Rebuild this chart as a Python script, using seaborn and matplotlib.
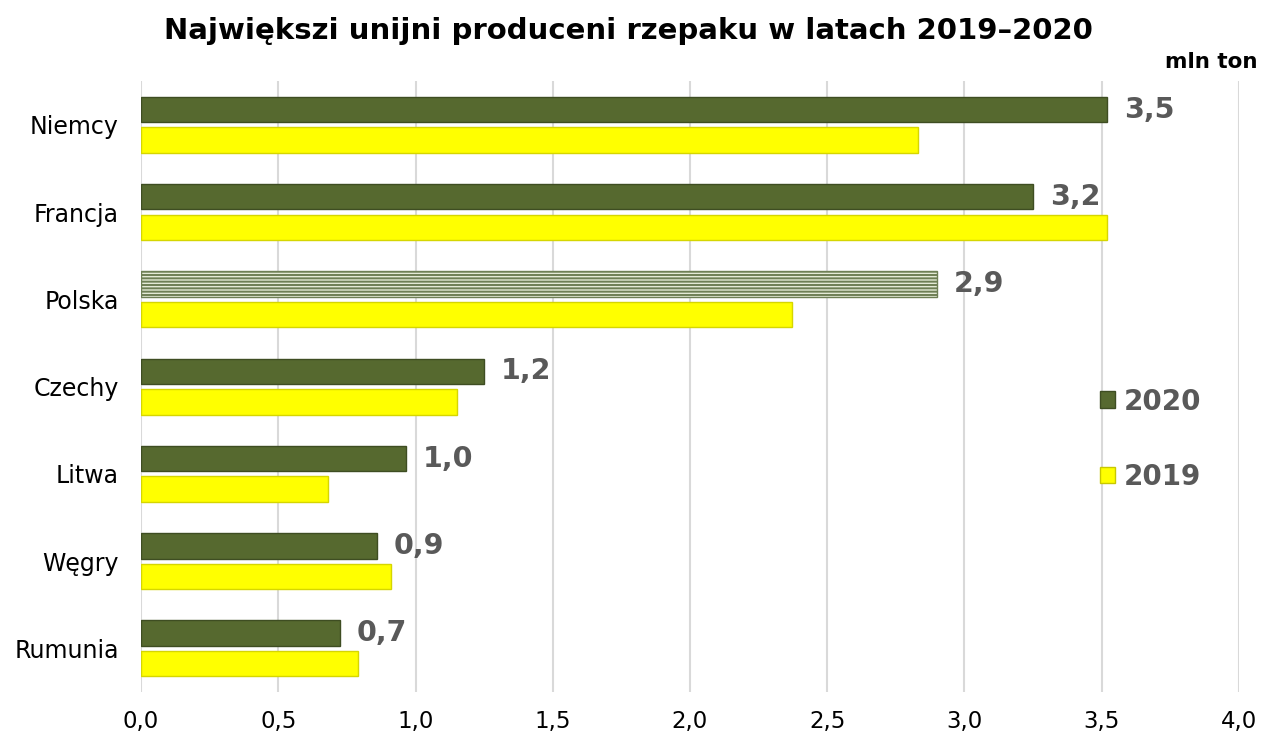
import matplotlib
matplotlib.use("Agg")
import matplotlib.pyplot as plt
import seaborn as sns
import pandas as pd
from matplotlib.ticker import FuncFormatter
from matplotlib.patches import Patch

countries = ["Niemcy", "Francja", "Polska", "Czechy", "Litwa", "Węgry", "Rumunia"]
values_2020 = [3.52, 3.25, 2.90, 1.25, 0.965, 0.86, 0.725]
values_2019 = [2.83, 3.52, 2.37, 1.15, 0.68, 0.91, 0.79]
labels_2020 = ["3,5", "3,2", "2,9", "1,2", "1,0", "0,9", "0,7"]
years = ["2020", "2019"]
x_ticks = [0, 0.5, 1.0, 1.5, 2.0, 2.5, 3.0, 3.5, 4.0]

df = pd.DataFrame({
    "kraj": countries * 2,
    "rok": [years[0]] * len(countries) + [years[1]] * len(countries),
    "wartosc": values_2020 + values_2019,
})

sns.set_theme(style="white")
plt.rcParams["font.family"] = ["DejaVu Sans"]
plt.rcParams["hatch.linewidth"] = 1.4

fig = plt.figure(figsize=(12.65, 7.38), dpi=100)
ax = fig.add_axes([0.1115, 0.0623, 0.8679, 0.8277])

palette = {"2020": "#56692F", "2019": "#FFFF00"}
sns.barplot(data=df, y="kraj", x="wartosc", hue="rok", hue_order=years,
            order=countries, palette=palette, orient="h", width=0.7, gap=0.17,
            saturation=1, ax=ax, legend=False)

for bar in ax.containers[0]:
    bar.set_edgecolor("#3E4D22")
    bar.set_linewidth(1.0)
for bar in ax.containers[1]:
    bar.set_edgecolor("#D6D600")
    bar.set_linewidth(1.0)

# Polska 2020 striped
pol = ax.containers[0][countries.index("Polska")]
pol.set_facecolor("#E4EAD6")
pol.set_hatch("-----")
pol.set_edgecolor("#6E7F55")

ax.set_xlim(0, 4.0)
ax.set_ylim(6.5, -0.5)
ax.set_xticks(x_ticks)
ax.xaxis.set_major_formatter(FuncFormatter(lambda v, p: f"{v:.1f}".replace(".", ",")))
ax.grid(axis="x", color="#D9D9D9", linewidth=1.5)
ax.set_axisbelow(True)
for s in ["top", "right", "bottom", "left"]:
    ax.spines[s].set_visible(False)
ax.tick_params(axis="both", length=0, colors="black")
ax.tick_params(axis="x", pad=13, labelsize=16.5)
ax.tick_params(axis="y", pad=16, labelsize=17)
ax.set_xlabel("")
ax.set_ylabel("")

for bar, lab in zip(ax.containers[0], labels_2020):
    ax.annotate(lab, (bar.get_width(), bar.get_y() + bar.get_height() / 2),
                xytext=(12, 0), textcoords="offset points", va="center", ha="left",
                fontsize=20.5, fontweight="bold", color="#595959")

handles = [Patch(facecolor=palette[y], edgecolor="#3E4D22" if y == "2020" else "#C8C800") for y in years]
ax.legend(handles, years, loc="center left", bbox_to_anchor=(0.8507, 0.414),
          frameon=False, handlelength=0.55, handleheight=0.55, handletextpad=0.3,
          labelspacing=1.7, prop={"size": 20, "weight": "bold"}, labelcolor="#595959")

fig.text(0.497, 0.958, "Największi unijni produceni rzepaku w latach 2019–2020",
         ha="center", va="center", fontsize=21, fontweight="bold", color="black")
fig.text(0.994, 0.916, "mln ton", ha="right", va="center", fontsize=15.5,
         fontweight="bold", color="black")

fig.savefig("out.png", dpi=100)
